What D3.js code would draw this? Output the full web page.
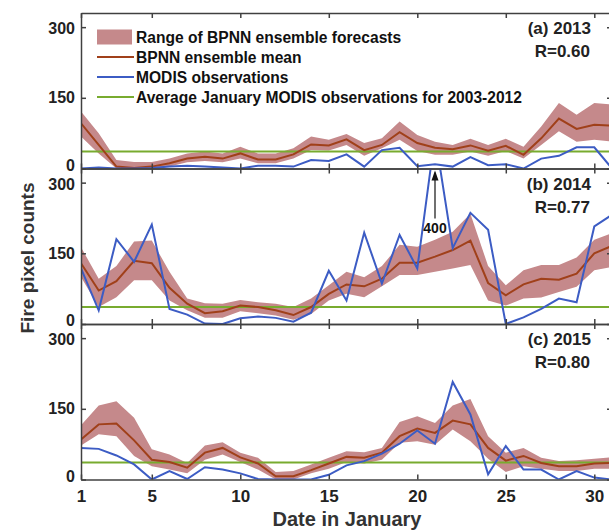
<!DOCTYPE html>
<html>
<head>
<meta charset="UTF-8" />
<style>
    body { margin: 0; padding: 0; background: #fff; }
    svg { display: block; font-family: "Liberation Sans", Arial, sans-serif; font-weight: bold; }
    .axis line, .axis path { stroke: #404040; }
</style>
</head>
<body>
<svg width="609" height="530"></svg>
<script src="https://d3js.org/d3.v7.min.js"></script>
<script>
    // day of January
    const days = [1,2,3,4,5,6,7,8,9,10,11,12,13,14,15,16,17,18,19,20,21,22,23,24,25,26,27,28,29,30,31]

    // (a) 2013
    const meanA = [96,50,4,1,4,11,21,25,21,32,19,19,30,51,49,62,39,50,77,54,44,41,49,38,48,29,64,106,84,93,91]
    const highA = [121,75,18,14,14,21,32,36,32,46,32,32,43,68,61,73,54,64,100,71,57,50,63,50,63,46,89,139,114,139,136]
    const lowA  = [68,32,0,0,0,4,13,16,13,21,11,11,21,39,38,50,27,43,61,37,29,29,36,27,37,21,50,79,57,61,57]
    const obsA  = [0,2,0,0,1,4,6,4,2,0,6,6,4,18,16,30,4,39,44,5,9,4,24,7,9,0,21,27,45,45,0]

    // (b) 2014
    const meanB = [129,71,91,134,129,77,43,23,27,39,36,29,19,36,64,84,80,96,130,130,143,157,177,87,61,84,96,94,107,150,166]
    const highB = [163,96,123,175,177,111,54,44,43,51,46,43,36,54,82,111,99,123,168,164,179,196,234,123,82,114,125,125,141,179,193]
    const lowB  = [100,36,57,93,93,50,29,13,13,27,23,18,9,21,50,64,57,80,104,104,111,118,125,50,39,54,56,68,79,114,121]
    const obsB  = [118,29,180,132,211,32,20,1,0,12,16,13,5,24,113,50,194,86,189,118,400,161,236,200,0,14,32,54,46,207,232]

    // (c) 2015
    const meanC = [85,117,119,83,42,37,25,57,67,47,34,7,7,20,34,48,46,57,92,108,99,125,117,67,40,50,35,28,28,34,35]
    const highC = [115,157,166,131,64,53,35,72,79,57,46,16,18,32,46,60,58,67,122,134,120,157,171,92,57,67,46,39,41,44,47]
    const lowC  = [72,96,92,50,28,21,13,42,53,37,21,0,0,13,23,37,34,42,78,81,74,106,81,44,16,28,23,18,18,23,23]
    const obsC  = [67,65,51,32,0,18,1,26,21,13,1,0,0,0,10,30,39,55,76,104,76,207,138,11,71,21,21,0,18,4,0]

    const avgJan = 36   // average January MODIS obs 2003-2012
    const panelTitles = ["(a) 2013", "(b) 2014", "(c) 2015"]
    const rLabels = ["R=0.60", "R=0.77", "R=0.80"]
    const xTicks = [1, 5, 10, 15, 20, 25, 30]
    const yTicks = [0, 150, 300]
    const legendLabels = ["Range of BPNN ensemble forecasts", "BPNN ensemble mean",
        "MODIS observations", "Average January MODIS observations for 2003-2012"]

    const panels = [
        { mean: meanA, high: highA, low: lowA, obs: obsA },
        { mean: meanB, high: highB, low: lowB, obs: obsB },
        { mean: meanC, high: highC, low: lowC, obs: obsC }
    ]

    const cBand = "#c5898b", cMean = "#a0401a", cObs = "#3c5cc4", cAvg = "#78ab2f"

    const svg = d3.select("svg")
    const padL = 81, padR = 612, padT = 13, ph = 155.5

    const x = d3.scaleLinear().domain([1, 31]).range([padL, padR])

    panels.forEach((p, i) => {
        const y0 = padT + i * ph
        const y = d3.scaleLinear().domain([0, 330]).range([y0 + ph, y0])
        const g = svg.append("g")

        g.append("clipPath").attr("id", "clip" + i)
            .append("rect").attr("x", padL).attr("y", y0).attr("width", padR - padL).attr("height", ph)

        const plot = g.append("g").attr("clip-path", `url(#clip${i})`)

        const area = d3.area().x((d, j) => x(days[j])).y0((d, j) => y(p.low[j])).y1(d => y(d))
        plot.append("path").datum(p.high).attr("d", area).attr("fill", cBand)

        plot.append("line")
            .attr("x1", padL).attr("x2", padR)
            .attr("y1", y(avgJan)).attr("y2", y(avgJan))
            .attr("stroke", cAvg).attr("stroke-width", 2)

        const line = d3.line().x((d, j) => x(days[j])).y(d => y(d))
        plot.append("path").datum(p.mean).attr("d", line)
            .attr("fill", "none").attr("stroke", cMean).attr("stroke-width", 2)
        plot.append("path").datum(p.obs).attr("d", line)
            .attr("fill", "none").attr("stroke", cObs).attr("stroke-width", 2)

        // box with inward ticks on all four sides
        const axL = g.append("g").attr("class", "axis").attr("transform", `translate(${padL},0)`)
            .call(d3.axisLeft(y).tickValues(yTicks).tickSizeInner(-5).tickSizeOuter(0).tickPadding(6))
        axL.selectAll("text").attr("font-size", 16).attr("fill", "#222")
            .attr("dy", d => d === 0 ? "0.1em" : d === 300 ? "0.4em" : "0.32em")
        g.append("g").attr("class", "axis").attr("transform", `translate(${padR},0)`)
            .call(d3.axisRight(y).tickValues(yTicks).tickSizeInner(-5).tickSizeOuter(0).tickFormat(""))
        g.append("g").attr("class", "axis").attr("transform", `translate(0,${y0})`)
            .call(d3.axisTop(x).tickValues(xTicks).tickSizeInner(-5).tickSizeOuter(0).tickFormat(""))
        const axB = g.append("g").attr("class", "axis").attr("transform", `translate(0,${y0 + ph})`)
            .call(d3.axisBottom(x).tickValues(xTicks).tickSizeInner(-5).tickSizeOuter(0).tickPadding(10))
        if (i < 2) axB.selectAll("text").remove()
        else axB.selectAll("text").attr("font-size", 17).attr("fill", "#222")
        g.selectAll(".axis path, .axis line").attr("stroke-width", 1.5)

        g.append("text").attr("x", 591).attr("y", y0 + 21).attr("text-anchor", "end")
            .attr("font-size", 17).attr("fill", "#222").text(panelTitles[i])
        g.append("text").attr("x", 590).attr("y", y0 + 44).attr("text-anchor", "end")
            .attr("font-size", 17).attr("fill", "#222").text(rLabels[i])

        // arrow marking the off-scale value in 2014
        if (i === 1) {
            const k = p.obs.indexOf(d3.max(p.obs))
            const ax = x(days[k])
            g.append("line").attr("x1", ax).attr("x2", ax).attr("y1", y0 + 50).attr("y2", y0 + 4)
                .attr("stroke", "#111").attr("stroke-width", 1.2)
            g.append("path").attr("d", `M${ax},${y0 + 2} l-3.5,10 l7,0 z`).attr("fill", "#111")
            g.append("text").attr("x", ax).attr("y", y0 + 64).attr("text-anchor", "middle")
                .attr("font-size", 14).attr("fill", "#111").text(p.obs[k])
        }
    })

    // legend
    const leg = svg.append("g")
    legendLabels.forEach((t, i) => {
        const ly = 37 + i * 20
        if (i === 0) {
            leg.append("rect").attr("x", 97).attr("y", ly - 7.5).attr("width", 35).attr("height", 15).attr("fill", cBand)
        } else {
            leg.append("line").attr("x1", 97).attr("x2", 134).attr("y1", ly).attr("y2", ly)
                .attr("stroke", [cMean, cObs, cAvg][i - 1]).attr("stroke-width", 2)
        }
        leg.append("text").attr("x", 136).attr("y", ly + 5.5).attr("font-size", 15.6).attr("fill", "#111").text(t)
    })

    svg.append("text").attr("transform", "translate(34,258) rotate(-90)").attr("text-anchor", "middle")
        .attr("font-size", 19).attr("fill", "#333").text("Fire pixel counts")
    svg.append("text").attr("x", 347).attr("y", 526).attr("text-anchor", "middle")
        .attr("font-size", 20).attr("fill", "#333").text("Date in January")
</script>
</body>
</html>
